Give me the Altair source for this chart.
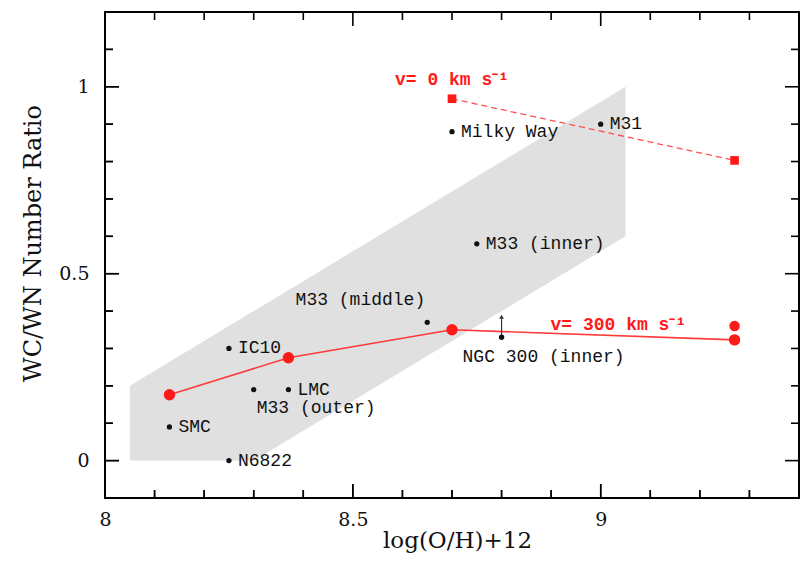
import altair as alt
import pandas as pd

# ---------------- data ----------------
gal_names = ["Milky Way", "M31", "M33 (inner)", "M33 (middle)", "NGC 300 (inner)",
             "IC10", "M33 (outer)", "LMC", "SMC", "N6822"]
gal_oh = [8.70, 9.00, 8.75, 8.65, 8.80, 8.25, 8.30, 8.37, 8.13, 8.25]
gal_ratio = [0.88, 0.90, 0.58, 0.37, 0.33, 0.30, 0.19, 0.19, 0.09, 0.00]
gal_label_side = ["right", "right", "right", "above", "below",
                  "right", "below", "right", "right", "right"]

ngc300_limit = 0.385  # lower-limit arrow tip

v300_oh = [8.13, 8.37, 8.70, 9.27]
v300_ratio = [0.176, 0.275, 0.350, 0.323]
v300_extra_oh = [9.27]
v300_extra_ratio = [0.360]

v0_oh = [8.70, 9.27]
v0_ratio = [0.968, 0.803]

series_text = ["v= 0 km s\u207b\u00b9", "v= 300 km s\u207b\u00b9"]

# band (upper / lower envelope)
band_oh = [8.05, 8.30, 9.05]
band_hi = [0.20, 0.40, 1.00]
band_lo = [0.00, 0.00, 0.60]

x_labels = [8.0, 8.5, 9.0]
x_major = [8.5, 9.0]
x_minor = [8.1, 8.2, 8.3, 8.4, 8.6, 8.7, 8.8, 8.9, 9.1, 9.2, 9.3]
y_major = [0.0, 0.5, 1.0]
y_minor = [0.1, 0.2, 0.3, 0.4, 0.6, 0.7, 0.8, 0.9, 1.1]

X_DOM = [8.0, 9.4]
Y_DOM = [-0.1, 1.2]

# ---------------- layout ----------------
W, H = 694, 486
MINOR, MAJOR = 8, 14
PX_X = (X_DOM[1] - X_DOM[0]) / W   # data units per pixel
PX_Y = (Y_DOM[1] - Y_DOM[0]) / H

gal = pd.DataFrame({"oh": gal_oh, "ratio": gal_ratio, "name": gal_names, "side": gal_label_side})
v300 = pd.DataFrame({"oh": v300_oh, "ratio": v300_ratio})
v300x = pd.DataFrame({"oh": v300_extra_oh, "ratio": v300_extra_ratio})
v0 = pd.DataFrame({"oh": v0_oh, "ratio": v0_ratio})
band = pd.DataFrame({"oh": band_oh, "hi": band_hi, "lo": band_lo})
arrow = gal[gal["name"] == "NGC 300 (inner)"].assign(tip=ngc300_limit)
lab0 = pd.DataFrame({"oh": [v0_oh[0]], "ratio": [v0_ratio[0]], "t": [series_text[0]]})
lab300 = pd.DataFrame({"oh": [v300_oh[-1]], "ratio": [v300_ratio[-1]], "t": [series_text[1]]})

# inward tick segments on all four sides (from the tick value lists)
xt_rows = []
for vals, size in ((x_minor, MINOR), (x_major, MAJOR)):
    for v in vals:
        xt_rows.append({"oh": v, "ratio": Y_DOM[0], "b": Y_DOM[0] + size * PX_Y})
        xt_rows.append({"oh": v, "ratio": Y_DOM[1], "b": Y_DOM[1] - size * PX_Y})
yt_rows = []
for vals, size in ((y_minor, MINOR), (y_major, MAJOR)):
    for v in vals:
        yt_rows.append({"ratio": v, "oh": X_DOM[0], "b": X_DOM[0] + size * PX_X})
        yt_rows.append({"ratio": v, "oh": X_DOM[1], "b": X_DOM[1] - size * PX_X})
xt = pd.DataFrame(xt_rows)
yt = pd.DataFrame(yt_rows)
xmin_df = pd.DataFrame({"v": x_minor})
xmaj_df = pd.DataFrame({"v": x_major})
ymin_df = pd.DataFrame({"v": y_minor})
ymaj_df = pd.DataFrame({"v": y_major})

xs = alt.Scale(domain=X_DOM, nice=False, zero=False)
ys = alt.Scale(domain=Y_DOM, nice=False, zero=False)

SERIF = "DejaVu Serif"
MONO = "Liberation Mono"
RED = "#ff1a1a"
INK = "#000000"


def X(field="oh:Q"):
    return alt.X(field, scale=xs)


def Y(field="ratio:Q"):
    return alt.Y(field, scale=ys)


# main layer carries the labelled axes
main = alt.Chart(band).mark_area(color="#e0e0e0").encode(
    x=alt.X("oh:Q", scale=xs,
            axis=alt.Axis(values=x_labels, format="~g", ticks=False, tickSize=0,
                          domain=False, grid=False, labelFont=SERIF, labelFontSize=19,
                          labelColor="#111", labelPadding=12, labelFlush=False,
                          title="log(O/H)+12", titleFont=SERIF, titleFontSize=23,
                          titleFontWeight="normal", titleColor="#111",
                          titleX=352, titleY=42, titleBaseline="middle", titleAlign="center")),
    y=alt.Y("hi:Q", scale=ys,
            axis=alt.Axis(values=y_major, format="~g", ticks=False, tickSize=0,
                          domain=False, grid=False, labelFont=SERIF, labelFontSize=19,
                          labelColor="#111", labelPadding=16,
                          title="WC/WN Number Ratio", titleFont=SERIF, titleFontSize=24,
                          titleFontWeight="normal", titleColor="#111",
                          titleX=-72, titleY=231, titleBaseline="middle", titleAlign="center")),
    y2="lo:Q",
)

x_ticks = alt.Chart(xt).mark_rule(color=INK, strokeWidth=1.6, opacity=1).encode(
    x=X(), y=Y(), y2="b:Q")
y_ticks = alt.Chart(yt).mark_rule(color=INK, strokeWidth=1.6, opacity=1).encode(
    y=Y(), x=X(), x2="b:Q")


# bottom / left inward ticks drawn with pixel offsets from the frame
def bottom_ticks(df, size):
    return alt.Chart(df).mark_rule(color=INK, strokeWidth=1.4).encode(
        x=X("v:Q"), y=alt.value(H), y2=alt.value(H - size))


def left_ticks(df, size):
    return alt.Chart(df).mark_rule(color=INK, strokeWidth=1.4).encode(
        y=Y("v:Q"), x=alt.value(0), x2=alt.value(size))


px_ticks = [bottom_ticks(xmin_df, MINOR), bottom_ticks(xmaj_df, MAJOR),
            left_ticks(ymin_df, MINOR), left_ticks(ymaj_df, MAJOR)]

v0_line = alt.Chart(v0).mark_line(color="#ff5050", strokeWidth=1.3, strokeDash=[6, 4]).encode(
    x=X(), y=Y())
v0_pts = alt.Chart(v0).mark_square(color=RED, size=75, opacity=1).encode(x=X(), y=Y())

v300_line = alt.Chart(v300).mark_line(color="#ff3a3a", strokeWidth=1.6).encode(x=X(), y=Y())
v300_pts = alt.Chart(v300).mark_circle(color=RED, size=130, opacity=1).encode(x=X(), y=Y())
v300x_pts = alt.Chart(v300x).mark_circle(color=RED, size=110, opacity=1).encode(x=X(), y=Y())

gal_pts = alt.Chart(gal).mark_circle(color="#111", size=28, opacity=1).encode(x=X(), y=Y())

arrow_rule = alt.Chart(arrow).mark_rule(color="#333", strokeWidth=1.2).encode(
    x=X(), y=Y(), y2="tip:Q")
arrow_head = alt.Chart(arrow).mark_point(shape="triangle-up", filled=True, color="#333",
                                         size=22, opacity=1).encode(x=X(), y=Y("tip:Q"))

LBL = dict(font=MONO, fontSize=18, color="#111", baseline="middle")

txt_right = alt.Chart(gal).transform_filter(alt.datum.side == "right").mark_text(
    align="left", dx=9, **LBL).encode(x=X(), y=Y(), text="name:N")
txt_above = alt.Chart(gal).transform_filter(alt.datum.side == "above").mark_text(
    align="right", dx=-2, dy=-22, **LBL).encode(x=X(), y=Y(), text="name:N")
txt_below_ngc = alt.Chart(gal).transform_filter(alt.datum.name == "NGC 300 (inner)").mark_text(
    align="left", dx=-39, dy=20, **LBL).encode(x=X(), y=Y(), text="name:N")
txt_below_m33 = alt.Chart(gal).transform_filter(alt.datum.name == "M33 (outer)").mark_text(
    align="left", dx=3, dy=18, **LBL).encode(x=X(), y=Y(), text="name:N")

RLBL = dict(font=MONO, fontSize=18, fontWeight="bold", color=RED, baseline="middle", align="left")
t0 = alt.Chart(lab0).mark_text(dx=-57, dy=-19, **RLBL).encode(x=X(), y=Y(), text="t:N")
t300 = alt.Chart(lab300).mark_text(dx=-184, dy=-15, **RLBL).encode(x=X(), y=Y(), text="t:N")

chart = alt.layer(
    main, *px_ticks,
    v0_line, v300_line, arrow_rule, arrow_head, gal_pts,
    txt_right, txt_above, txt_below_ngc, txt_below_m33,
    v0_pts, v300_pts, v300x_pts, t0, t300,
    x_ticks, y_ticks,
).properties(
    width=W, height=H,
    autosize=alt.AutoSizeParams(type="none"),
    padding={"left": 97, "top": 4, "right": 2, "bottom": 56},
).configure_view(stroke=INK, strokeWidth=2).configure_axis(grid=False, domain=False)

chart.save("out.html", embed_options={"renderer": "svg", "actions": False})
